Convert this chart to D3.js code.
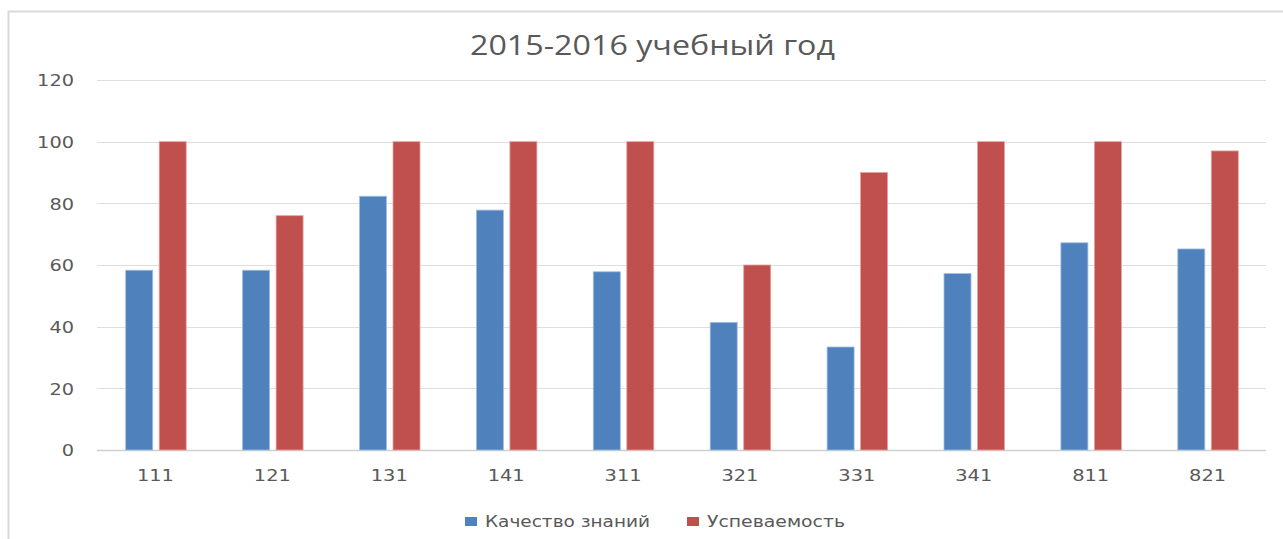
<!DOCTYPE html>
<html>
<head>
<meta charset="utf-8">
<script src="https://cdn.jsdelivr.net/npm/d3@7"></script>
<style>
  body { margin: 0; background: #fff; }
  text { fill: #595959; }
</style>
</head>
<body>
<div id="chart-area"></div>
<script>
// data
var groups = ["111", "121", "131", "141", "311", "321", "331", "341", "811", "821"]
var quality = [58.3, 58.3, 82.3, 77.8, 57.8, 41.4, 33.4, 57.2, 67.2, 65.2]
var progress = [100, 76, 100, 100, 100, 60, 90, 100, 100, 97]
var seriesNames = ["Качество знаний", "Успеваемость"]
var yTicks = [0, 20, 40, 60, 80, 100, 120]

var colors = ["#4f81bd", "#c0504d"]

var W = 1283, H = 539
var margin = { left: 97, right: 17, top: 80, bottom: 89 }
var width = W - margin.left - margin.right,
    height = H - margin.top - margin.bottom

var svg = d3.select("#chart-area").append("svg")
  .attr("width", W)
  .attr("height", H)

// outer chart frame (only top and left edges are visible)
svg.append("path")
  .attr("d", "M8.5," + H + "V11.5H" + W)
  .attr("fill", "none")
  .attr("stroke", "#d9d9d9")
  .attr("stroke-width", 2)

var g = svg.append("g")
  .attr("transform", "translate(" + margin.left + "," + margin.top + ")")

var y = d3.scaleLinear()
  .domain([0, 120])
  .range([height, 0])

var x = d3.scaleBand()
  .domain(groups)
  .range([0, width])

// gridlines
g.append("g")
  .selectAll("line")
  .data(yTicks)
  .enter().append("line")
    .attr("x1", 0)
    .attr("x2", width)
    .attr("y1", function(d) { return Math.round(y(d)) + 0.5 })
    .attr("y2", function(d) { return Math.round(y(d)) + 0.5 })
    .attr("stroke", function(d) { return d === 0 ? "#d0d0d0" : "#dedede" })
    .attr("stroke-width", function(d) { return d === 0 ? 1.5 : 1 })

// y labels
var yAxisCall = d3.axisLeft(y).tickValues(yTicks).tickSize(0).tickPadding(23)
var yAxisGroup = g.append("g").call(yAxisCall)
yAxisGroup.select(".domain").remove()
yAxisGroup.selectAll("text")
  .attr("font-family", "DejaVu Sans")
  .attr("font-size", "16px")
  .attr("dy", "0.36em")
  .attr("fill", "#595959")
  .each(function(d) {
    d3.select(this).attr("textLength", String(d).length * 12.3).attr("lengthAdjust", "spacingAndGlyphs")
  })

// x labels
var xAxisCall = d3.axisBottom(x).tickSize(0).tickPadding(20)
var xAxisGroup = g.append("g")
  .attr("transform", "translate(0," + height + ")")
  .call(xAxisCall)
xAxisGroup.select(".domain").remove()
xAxisGroup.selectAll("text")
  .attr("font-family", "DejaVu Sans")
  .attr("font-size", "16px")
  .attr("dy", "0.71em")
  .attr("fill", "#595959")
  .attr("textLength", 37)
  .attr("lengthAdjust", "spacingAndGlyphs")

// bars
var barW = 27, gap = 6.5
var series = [quality, progress]

series.forEach(function(vals, s) {
  g.append("g")
    .selectAll("rect")
    .data(vals)
    .enter().append("rect")
      .attr("x", function(d, i) {
        var c = x(groups[i]) + x.bandwidth() / 2
        return s === 0 ? c - gap / 2 - barW + 0.5 : c + gap / 2 + 0.5
      })
      .attr("width", barW)
      .attr("y", function(d) { return y(d) })
      .attr("height", function(d) { return height - y(d) })
      .attr("fill", colors[s])
      .attr("stroke", s === 0 ? "#9fbde0" : "#e3a3a1")
      .attr("stroke-width", 0.8)
})

// title
svg.append("text")
  .attr("x", 470)
  .attr("y", 55)
  .attr("font-family", "Open Sans")
  .attr("font-size", "27px")
  .attr("textLength", 365)
  .attr("lengthAdjust", "spacingAndGlyphs")
  .text("2015-2016 учебный год")

// legend
var legendX = [465, 687]
var legendW = [165, 138]
var legend = svg.append("g")
seriesNames.forEach(function(name, i) {
  legend.append("rect")
    .attr("x", legendX[i])
    .attr("y", 517)
    .attr("width", 12)
    .attr("height", 9)
    .attr("fill", colors[i])
  legend.append("text")
    .attr("x", legendX[i] + 20)
    .attr("y", 527)
    .attr("font-family", "DejaVu Sans")
    .attr("font-size", "15px")
    .attr("textLength", legendW[i])
    .attr("lengthAdjust", "spacingAndGlyphs")
    .text(name)
})
</script>
</body>
</html>
